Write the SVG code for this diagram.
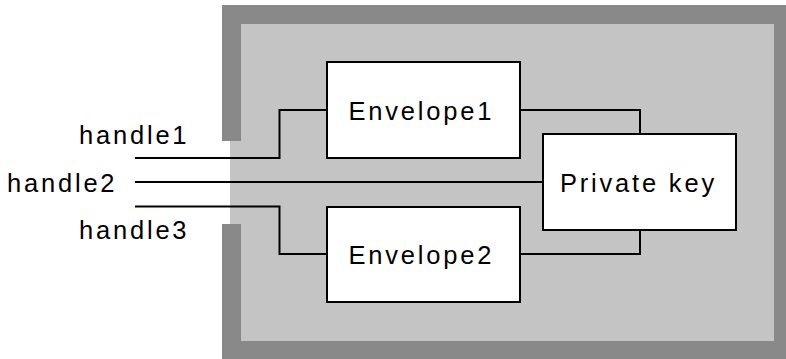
<svg xmlns="http://www.w3.org/2000/svg" width="786" height="359" viewBox="0 0 786 359">
<style>
.t{font-family:"Liberation Sans",Arial,sans-serif;font-size:25.5px;letter-spacing:2.8px;fill:#000}
.box{fill:#fff;stroke:#000;stroke-width:2}
.c{fill:none;stroke:#000;stroke-width:2}
</style>
<g id="frame">
<rect x="222" y="5" width="564" height="354" fill="#898989"/>
<rect x="241" y="24" width="533" height="317" fill="#c4c4c4"/>
<rect x="222" y="141" width="8" height="83" fill="#fff"/>
<rect x="230" y="141" width="11" height="83" fill="#c4c4c4"/>
</g>
<g id="connectors">
<path class="c" d="M135 158H279.5V110H327"/>
<path class="c" d="M135 182H543"/>
<path class="c" d="M135 206.5H279.5V254H327"/>
<path class="c" d="M520 110H640V134"/>
<path class="c" d="M520 254H640V230"/>
</g>
<g id="handle1"><text class="t" x="79" y="144">handle1</text></g>
<g id="handle2"><text class="t" x="7" y="191.5">handle2</text></g>
<g id="handle3"><text class="t" x="79" y="239">handle3</text></g>
<g id="envelope1"><rect class="box" x="327" y="62" width="193" height="96"/><text class="t" x="348.5" y="119.5">Envelope1</text></g>
<g id="envelope2"><rect class="box" x="327" y="207" width="193" height="95"/><text class="t" x="348.5" y="264">Envelope2</text></g>
<g id="privatekey"><rect class="box" x="543" y="134" width="193" height="96"/><text class="t" x="560" y="191.5">Private key</text></g>
</svg>
